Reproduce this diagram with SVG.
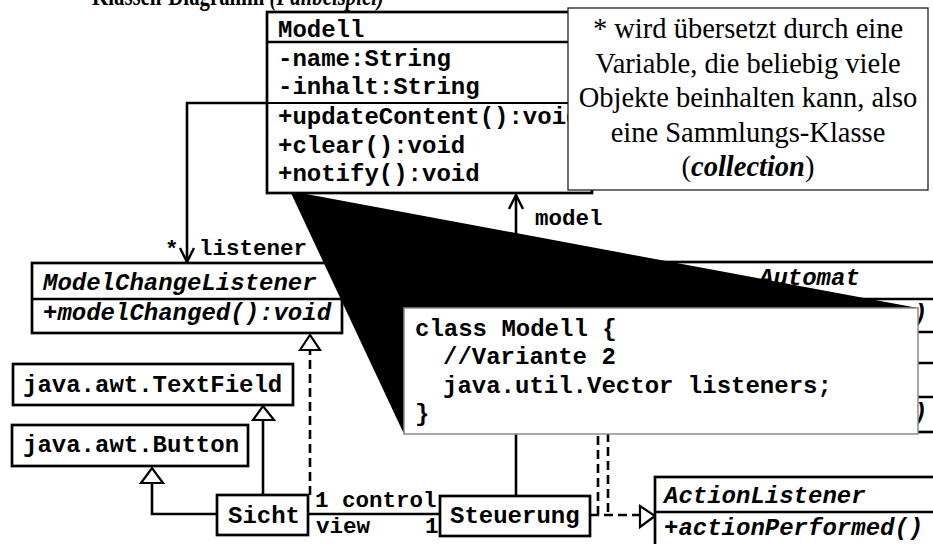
<svg xmlns="http://www.w3.org/2000/svg" width="933" height="544" viewBox="0 0 933 544">
<style>
.box{fill:#fff;stroke:#000;stroke-width:2.7}
.sep{stroke:#000;stroke-width:2.7}
.mono{font-family:"Liberation Mono","Courier New",monospace;font-weight:bold;font-size:24px;fill:#000}
.lbl{font-size:22.5px}
.it{font-style:italic}
.ln{stroke:#000;stroke-width:2.6;fill:none}
.dash{stroke-dasharray:9 5}
.head{fill:#fff;stroke:#000;stroke-width:2.2}
.open{fill:none;stroke:#000;stroke-width:2.4}
.serif{font-family:"Liberation Serif","Times New Roman",serif;font-size:28.5px;fill:#000}
</style>
<rect width="933" height="544" fill="#fff"/>
<text x="92" y="5" class="serif" style="font-weight:bold;font-size:28px" textLength="292" lengthAdjust="spacingAndGlyphs">Klassen-Diagramm <tspan font-style="italic">(Fallbeispiel)</tspan></text>

<g id="connectors">
  <path class="ln" d="M267,103 H187 V262"/>
  <path class="open" d="M180,248 L187,262 L194,248"/>
  <path class="ln" d="M516,496 V195"/>
  <path class="open" d="M509,209 L516,195 L523,209"/>
  <path class="ln dash" d="M310,495 V350"/>
  <polygon class="head" points="300,350 310,335 320,350"/>
  <path class="ln" d="M263,495 V420"/>
  <polygon class="head" points="253,420 263,406 274,420"/>
  <path class="ln" d="M217,514 H152 V483"/>
  <polygon class="head" points="141,483 152,468 163,483"/>
  <path class="ln" d="M308,514 H440"/>
  <path class="ln dash" d="M590,515 H640"/>
  <polygon class="head" points="640,506 655,516 640,527"/>
  <path class="ln dash" d="M598,515 V434"/>
  <path class="ln dash" d="M608,512 V434"/>
  <text class="mono lbl" x="165" y="256">*</text>
  <text class="mono lbl" x="199" y="255">listener</text>
  <text class="mono lbl" x="535" y="225">model</text>
  <text class="mono lbl" x="315" y="507">1 control</text>
  <text class="mono lbl" x="316" y="533">view</text>
  <text class="mono lbl" x="425" y="533">1</text>
</g>

<g id="ModelChangeListener">
  <rect class="box" x="32" y="263" width="310" height="70"/>
  <line class="sep" x1="32" y1="299" x2="342" y2="299"/>
  <text class="mono it" x="43" y="290">ModelChangeListener</text>
  <text class="mono it" x="43" y="320">+modelChanged():void</text>
</g>

<g id="TextField">
  <rect class="box" x="13" y="364" width="280" height="41"/>
  <text class="mono" x="23" y="392">java.awt.TextField</text>
</g>

<g id="Button">
  <rect class="box" x="12" y="425" width="236" height="41"/>
  <text class="mono" x="23" y="452">java.awt.Button</text>
</g>

<g id="Sicht">
  <rect class="box" x="217" y="495" width="91" height="40"/>
  <text class="mono" x="228" y="523">Sicht</text>
</g>

<g id="Steuerung">
  <rect class="box" x="440" y="496" width="150" height="40"/>
  <text class="mono" x="450" y="523">Steuerung</text>
</g>

<g id="ActionListener">
  <rect class="box" x="655" y="477" width="290" height="80"/>
  <line class="sep" x1="655" y1="512" x2="945" y2="512"/>
  <text class="mono it" x="664" y="503">ActionListener</text>
  <text class="mono it" x="664" y="535">+actionPerformed()</text>
</g>

<g id="Automat">
  <rect class="box" x="600" y="262" width="345" height="170"/>
  <line class="sep" x1="600" y1="299" x2="945" y2="299"/>
  <line class="sep" x1="600" y1="332" x2="945" y2="332"/>
  <line class="sep" x1="600" y1="363" x2="945" y2="363"/>
  <line class="sep" x1="600" y1="397" x2="945" y2="397"/>
  <text class="mono it" x="759" y="285">Automat</text>
  <text class="mono it" x="913" y="321">)</text>
  <text class="mono it" x="913" y="420">)</text>
</g>

<g id="code-note">
  <polygon points="290,191 918,308 404,434" fill="#000"/>
  <rect x="404" y="308" width="514" height="126" fill="#fff" stroke="#8c8c8c" stroke-width="1.5"/>
  <text class="mono" x="415" y="336">class Modell {</text>
  <text class="mono" x="443" y="364">//Variante 2</text>
  <text class="mono" x="443" y="393">java.util.Vector listeners;</text>
  <text class="mono" x="415" y="421">}</text>
</g>

<g id="Modell">
  <rect class="box" x="267" y="12" width="325" height="181"/>
  <line class="sep" x1="267" y1="42" x2="592" y2="42"/>
  <line x1="267" y1="103" x2="592" y2="103" stroke="#000" stroke-width="2.2"/>
  <text class="mono" x="278" y="37">Modell</text>
  <text class="mono" x="278" y="66">-name:String</text>
  <text class="mono" x="278" y="94">-inhalt:String</text>
  <text class="mono" x="278" y="124">+updateContent():void</text>
  <text class="mono" x="278" y="153">+clear():void</text>
  <text class="mono" x="278" y="181">+notify():void</text>
</g>

<g id="note">
  <rect x="568" y="8" width="360" height="182" fill="#fff" stroke="#222" stroke-width="1.3"/>
  <text class="serif" x="748" y="38" text-anchor="middle">* wird übersetzt durch eine</text>
  <text class="serif" x="748" y="72.5" text-anchor="middle">Variable, die beliebig viele</text>
  <text class="serif" x="748" y="107" text-anchor="middle">Objekte beinhalten kann, also</text>
  <text class="serif" x="748" y="141.5" text-anchor="middle">eine Sammlungs-Klasse</text>
  <text class="serif" x="748" y="176" text-anchor="middle">(<tspan font-weight="bold" font-style="italic">collection</tspan>)</text>
</g>
</svg>
